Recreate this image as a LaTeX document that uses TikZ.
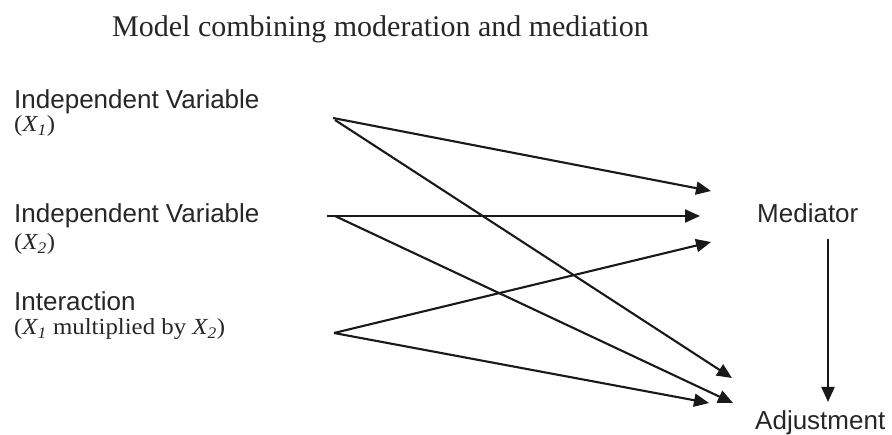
\documentclass[tikz,border=0pt]{standalone}
\usepackage{fontspec}
\setmainfont{Liberation Serif}
\newfontfamily\rsans{Liberation Sans}
\newfontfamily\labserif[FakeStretch=1.08]{Liberation Serif}
\usetikzlibrary{arrows.meta}
\begin{document}
\begin{tikzpicture}[x=1pt,y=-1pt,
  path/.style={line width=2.1pt,draw=black!90,-{Triangle[length=15pt,width=13pt]}},
  lab/.style={anchor=base west,inner sep=0pt,font=\rsans\fontsize{26}{30}\selectfont,text=black!85},
  sublab/.style={anchor=base west,inner sep=0pt,font=\labserif\fontsize{23}{27}\selectfont,text=black!85}]
\useasboundingbox (0,0) rectangle (892,435);
\node[anchor=base west,inner sep=0pt,font=\fontsize{30}{34}\selectfont,text=black!85] (title) at (112,36.5) {Model combining moderation and mediation};
\node[lab] (iv1) at (14,109) {Independent Variable};
\node[sublab] (iv1s) at (14,132) {(\textit{X\textsubscript{1}})};
\node[lab] (iv2) at (14,223) {Independent Variable};
\node[sublab] (iv2s) at (14,250) {(\textit{X\textsubscript{2}})};
\node[lab] (int) at (14,311) {Interaction};
\node[sublab] (ints) at (14,335) {(\textit{X\textsubscript{1}} multiplied by \textit{X\textsubscript{2}})};
\node[lab] (med) at (757,223) {Mediator};
\node[lab] (adj) at (755,430) {Adjustment};
% connector end points
\coordinate (x1a) at (333,118);
\coordinate (x1b) at (335,120);
\coordinate (x2a) at (327,216);
\coordinate (x2b) at (335,216);
\coordinate (ia) at (334,333);
\coordinate (m1) at (711,191);
\coordinate (m2) at (700,216);
\coordinate (m3) at (711,242);
\coordinate (a1) at (732,378);
\coordinate (a2) at (733,403);
\coordinate (a3) at (709,403);
\coordinate (mo) at (828,239);
\coordinate (ai) at (828,402);
\draw[path] (x1a) -- (m1);
\draw[path] (x1b) -- (a1);
\draw[path] (x2a) -- (m2);
\draw[path] (x2b) -- (a2);
\draw[path] (ia) -- (m3);
\draw[path] (ia) -- (a3);
\draw[path] (mo) -- (ai);
\end{tikzpicture}
\end{document}
